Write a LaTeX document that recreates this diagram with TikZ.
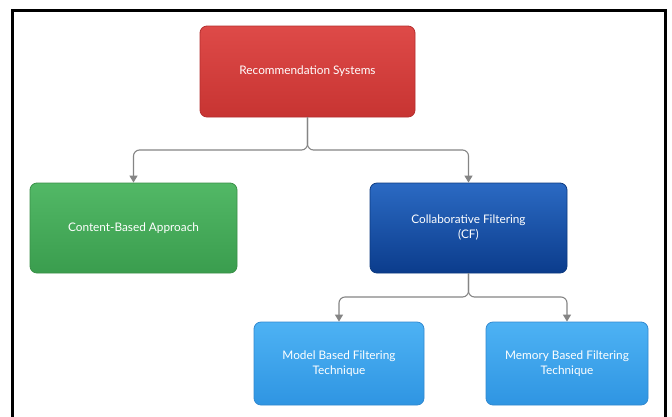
\documentclass[tikz,border=0pt]{standalone}
\usepackage{fontspec}
\setmainfont{Lato}
\usetikzlibrary{arrows.meta}

\definecolor{redtop}{HTML}{DE4A48}
\definecolor{redbot}{HTML}{C73432}
\definecolor{redline}{HTML}{B52E2E}
\definecolor{greentop}{HTML}{52B866}
\definecolor{greenbot}{HTML}{3A9D4E}
\definecolor{greenline}{HTML}{3A9048}
\definecolor{navytop}{HTML}{2B6AC3}
\definecolor{navybot}{HTML}{0B3C8C}
\definecolor{navyline}{HTML}{0C3A80}
\definecolor{skytop}{HTML}{4DB2F4}
\definecolor{skybot}{HTML}{2F95E2}
\definecolor{skyline}{HTML}{3189D0}
\definecolor{connector}{HTML}{858585}

\tikzset{
  card/.style={rounded corners=7pt, line width=0.8pt, align=center,
    text=white, font=\fontsize{11.8}{15}\selectfont, inner sep=0pt},
  redcard/.style={card, draw=redline, top color=redtop, bottom color=redbot,
    minimum width=215pt, minimum height=91pt},
  greencard/.style={card, draw=greenline, top color=greentop, bottom color=greenbot,
    minimum width=207pt, minimum height=90pt},
  navycard/.style={card, draw=navyline, top color=navytop, bottom color=navybot,
    minimum width=197pt, minimum height=90pt},
  skycard/.style={card, draw=skyline, top color=skytop, bottom color=skybot,
    minimum height=83pt},
  link/.style={draw=connector, line width=1.1pt, rounded corners=6pt,
    -{Triangle[width=8pt,length=7pt]}},
}

\begin{document}
\begin{tikzpicture}[x=1pt, y=-1pt]
  \useasboundingbox (0,0) rectangle (672,416);
  \fill[white] (0,0) rectangle (672,416);
  % outer frame, open at the bottom
  \draw[black, line width=2.4pt] (12.5,430) -- (12.5,10.5) -- (665.5,10.5) -- (665.5,430);

  \node[redcard]   (rs) at (307.5,71.5) {Recommendation Systems};
  \node[greencard] (cb) at (133.5,228)  {Content-Based Approach};
  \node[navycard]  (cf) at (468.5,228)  {Collaborative Filtering\\(CF)};
  \node[skycard, minimum width=170pt] (mb) at (339,363.5) {Model Based Filtering\\Technique};
  \node[skycard, minimum width=162pt] (mm) at (567,363.5) {Memory Based Filtering\\Technique};

  % branch levels of the tree
  \coordinate (top) at (0,150);
  \coordinate (low) at (0,297);

  \draw[link] (rs.south) -- (rs.south |- top) -| (cb.north);
  \draw[link] (rs.south) -- (rs.south |- top) -| (cf.north);
  \draw[link] (cf.south) -- (cf.south |- low) -| (mb.north);
  \draw[link] (cf.south) -- (cf.south |- low) -| (mm.north);
\end{tikzpicture}
\end{document}
